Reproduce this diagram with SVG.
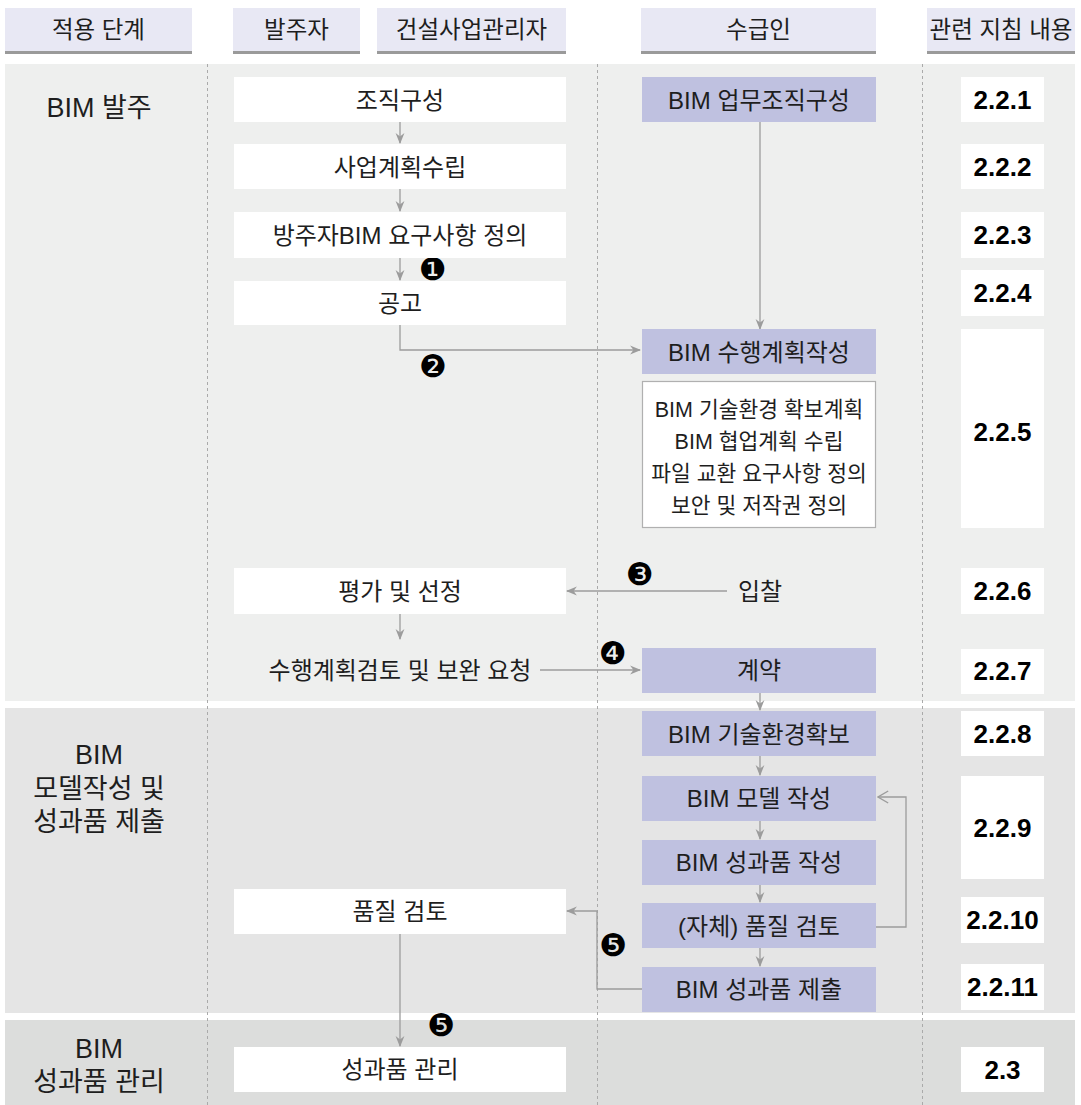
<svg xmlns="http://www.w3.org/2000/svg" width="1081" height="1105" viewBox="0 0 1081 1105">
<defs>
<style>
text{font-family:"Liberation Sans","Noto Sans CJK KR",sans-serif;fill:#1e1e1e;text-anchor:middle;dominant-baseline:central}
.h{font-size:23.5px}
.t{font-size:24px}
.s{font-size:21.5px}
.lbl{font-size:27px}
.num{font-size:26px;font-weight:bold;fill:#000}
.circ{font-family:"DejaVu Sans",sans-serif;font-size:31px;fill:#000}
.hd{fill:#e8e8f4}
.ul{fill:#9a9a9a}
.w{fill:#ffffff}
.p{fill:#bfc1e0}
.sub{fill:#ffffff;stroke:#b0b0b0;stroke-width:1.2}
.dash{stroke:#aaaaaa;stroke-width:1;stroke-dasharray:3,3}
.c{fill:none;stroke:#9c9c9c;stroke-width:1.3}
</style>
<marker id="ah" viewBox="0 0 10 10" refX="9" refY="5" markerWidth="11" markerHeight="11" markerUnits="userSpaceOnUse" orient="auto">
<path d="M0,1 L10,5 L0,9 L3,5 z" fill="#9c9c9c"/>
</marker>
<marker id="oh" viewBox="0 0 10 10" refX="9.5" refY="5" markerWidth="12" markerHeight="14" markerUnits="userSpaceOnUse" orient="auto">
<path d="M1,0 L9.5,5 L1,10" fill="none" stroke="#9c9c9c" stroke-width="1.2"/>
</marker>
</defs>
<rect width="1081" height="1105" fill="#ffffff"/>

<!-- header -->
<g id="header">
<rect class="hd" x="5" y="8" width="187" height="45"/><rect class="ul" x="5" y="51" width="187" height="3"/>
<text class="h" x="98.5" y="30">적용 단계</text>
<rect class="hd" x="233" y="8" width="127" height="45"/><rect class="ul" x="233" y="51" width="127" height="3"/>
<text class="h" x="296.5" y="30">발주자</text>
<rect class="hd" x="377" y="8" width="189" height="45"/><rect class="ul" x="377" y="51" width="189" height="3"/>
<text class="h" x="471.5" y="30">건설사업관리자</text>
<rect class="hd" x="641" y="8" width="235" height="45"/><rect class="ul" x="641" y="51" width="235" height="3"/>
<text class="h" x="758.5" y="30">수급인</text>
<rect class="hd" x="927" y="8" width="148" height="45"/><rect class="ul" x="927" y="51" width="148" height="3"/>
<text class="h" x="1001" y="30">관련 지침 내용</text>
</g>

<!-- section backgrounds -->
<g id="sections">
<rect x="5" y="64" width="1070" height="637" fill="#eeefee"/>
<rect x="5" y="708" width="1070" height="305" fill="#e5e5e5"/>
<rect x="5" y="1020" width="1070" height="85" fill="#dcdddc"/>
<line class="dash" x1="207.5" y1="64" x2="207.5" y2="1105"/>
<line class="dash" x1="597.5" y1="64" x2="597.5" y2="1105"/>
<line class="dash" x1="922.5" y1="64" x2="922.5" y2="1105"/>
<text class="lbl" x="99" y="108">BIM 발주</text>
<text class="lbl" x="99" y="755">BIM</text>
<text class="lbl" x="99" y="789">모델작성 및</text>
<text class="lbl" x="99" y="822">성과품 제출</text>
<text class="lbl" x="99" y="1049">BIM</text>
<text class="lbl" x="99" y="1082">성과품 관리</text>
</g>

<!-- connectors -->
<g id="connectors">
<line class="c" x1="400" y1="122" x2="400" y2="143" marker-end="url(#ah)"/>
<line class="c" x1="400" y1="189" x2="400" y2="211" marker-end="url(#ah)"/>
<line class="c" x1="400" y1="258" x2="400" y2="280" marker-end="url(#ah)"/>
<path class="c" d="M400,325 V350 H640" marker-end="url(#ah)"/>
<line class="c" x1="760" y1="122" x2="760" y2="329" marker-end="url(#ah)"/>
<line class="c" x1="727" y1="591" x2="567" y2="591" marker-end="url(#ah)"/>
<line class="c" x1="400" y1="614" x2="400" y2="639" marker-end="url(#ah)"/>
<line class="c" x1="540" y1="670" x2="640" y2="670" marker-end="url(#ah)"/>
<line class="c" x1="760" y1="693" x2="760" y2="710" marker-end="url(#ah)"/>
<line class="c" x1="760" y1="756" x2="760" y2="775" marker-end="url(#ah)"/>
<line class="c" x1="760" y1="821" x2="760" y2="839" marker-end="url(#ah)"/>
<line class="c" x1="760" y1="885" x2="760" y2="902" marker-end="url(#ah)"/>
<line class="c" x1="760" y1="948" x2="760" y2="966" marker-end="url(#ah)"/>
<path class="c" d="M876,927 H906 V797 H878" marker-end="url(#oh)"/>
<path class="c" d="M642,989 H597 V911 H567" marker-end="url(#ah)"/>
<line class="c" x1="400" y1="934" x2="400" y2="1046" marker-end="url(#ah)"/>
<text class="circ" x="433" y="269">❶</text>
<text class="circ" x="433" y="366">❷</text>
<text class="circ" x="640" y="574">❸</text>
<text class="circ" x="613" y="653">❹</text>
<text class="circ" x="613" y="945">❺</text>
<text class="circ" x="441" y="1025">❺</text>
</g>

<!-- owner / CM nodes -->
<g id="n-org"><rect class="w" x="234" y="77" width="332" height="45"/><text class="t" x="400" y="100">조직구성</text></g>
<g id="n-plan"><rect class="w" x="234" y="144" width="332" height="45"/><text class="t" x="400" y="167">사업계획수립</text></g>
<g id="n-req"><rect class="w" x="234" y="212" width="332" height="46"/><text class="t" x="400" y="235">방주자BIM 요구사항 정의</text></g>
<g id="n-notice"><rect class="w" x="234" y="281" width="332" height="44"/><text class="t" x="400" y="303">공고</text></g>
<g id="n-eval"><rect class="w" x="234" y="568" width="332" height="46"/><text class="t" x="400" y="591">평가 및 선정</text></g>
<g id="n-review"><text class="t" x="400" y="670">수행계획검토 및 보완 요청</text></g>
<g id="n-qc"><rect class="w" x="234" y="889" width="332" height="45"/><text class="t" x="400" y="911">품질 검토</text></g>
<g id="n-manage"><rect class="w" x="234" y="1047" width="332" height="45"/><text class="t" x="400" y="1069">성과품 관리</text></g>

<!-- contractor nodes -->
<g id="n-bimorg"><rect class="p" x="642" y="77" width="234" height="45"/><text class="t" x="759" y="100">BIM 업무조직구성</text></g>
<g id="n-bep"><rect class="p" x="642" y="329" width="234" height="45"/><text class="t" x="759" y="352">BIM 수행계획작성</text></g>
<g id="n-bep-detail"><rect class="sub" x="642.5" y="381.5" width="233" height="146"/>
<text class="s" x="759" y="410">BIM 기술환경 확보계획</text>
<text class="s" x="759" y="442">BIM 협업계획 수립</text>
<text class="s" x="759" y="474">파일 교환 요구사항 정의</text>
<text class="s" x="759" y="506">보안 및 저작권 정의</text></g>
<g id="n-bid"><text class="t" x="760" y="591">입찰</text></g>
<g id="n-contract"><rect class="p" x="642" y="648" width="234" height="45"/><text class="t" x="759" y="670">계약</text></g>
<g id="n-tech"><rect class="p" x="642" y="711" width="234" height="45"/><text class="t" x="759" y="734">BIM 기술환경확보</text></g>
<g id="n-model"><rect class="p" x="642" y="776" width="234" height="45"/><text class="t" x="759" y="798">BIM 모델 작성</text></g>
<g id="n-deliv"><rect class="p" x="642" y="840" width="234" height="45"/><text class="t" x="759" y="862">BIM 성과품 작성</text></g>
<g id="n-selfqc"><rect class="p" x="642" y="903" width="234" height="45"/><text class="t" x="759" y="926">(자체) 품질 검토</text></g>
<g id="n-submit"><rect class="p" x="642" y="967" width="234" height="45"/><text class="t" x="759" y="989">BIM 성과품 제출</text></g>

<!-- guideline refs -->
<g id="r-221"><rect class="w" x="961" y="77" width="83" height="45"/><text class="num" x="1002.5" y="100">2.2.1</text></g>
<g id="r-222"><rect class="w" x="961" y="144" width="83" height="45"/><text class="num" x="1002.5" y="167">2.2.2</text></g>
<g id="r-223"><rect class="w" x="961" y="212" width="83" height="46"/><text class="num" x="1002.5" y="235">2.2.3</text></g>
<g id="r-224"><rect class="w" x="961" y="270" width="83" height="46"/><text class="num" x="1002.5" y="293">2.2.4</text></g>
<g id="r-225"><rect class="w" x="961" y="329" width="83" height="199"/><text class="num" x="1002.5" y="432">2.2.5</text></g>
<g id="r-226"><rect class="w" x="961" y="568" width="83" height="46"/><text class="num" x="1002.5" y="591">2.2.6</text></g>
<g id="r-227"><rect class="w" x="961" y="649" width="83" height="45"/><text class="num" x="1002.5" y="671">2.2.7</text></g>
<g id="r-228"><rect class="w" x="961" y="711" width="83" height="45"/><text class="num" x="1002.5" y="734">2.2.8</text></g>
<g id="r-229"><rect class="w" x="961" y="776" width="83" height="103"/><text class="num" x="1002.5" y="828">2.2.9</text></g>
<g id="r-2210"><rect class="w" x="961" y="897" width="83" height="46"/><text class="num" x="1002.5" y="920">2.2.10</text></g>
<g id="r-2211"><rect class="w" x="961" y="964" width="83" height="46"/><text class="num" x="1002.5" y="987">2.2.11</text></g>
<g id="r-23"><rect class="w" x="961" y="1047" width="83" height="45"/><text class="num" x="1002.5" y="1070">2.3</text></g>
</svg>
